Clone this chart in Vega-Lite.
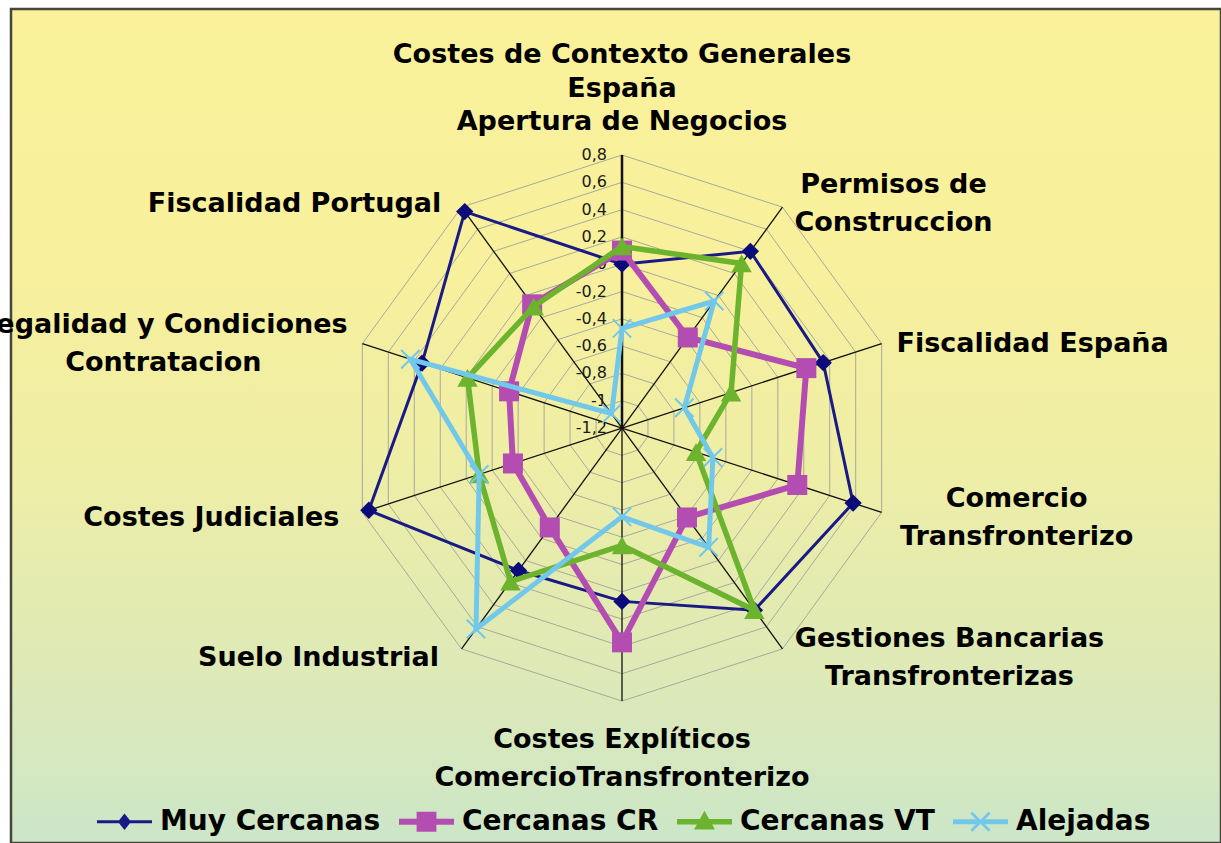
{
  "$schema": "https://vega.github.io/schema/vega-lite/v6.json",
  "width": 1210,
  "height": 834,
  "autosize": {"type": "none"},
  "padding": {"left": 11, "top": 9, "right": 0, "bottom": 0},
  "background": "#ffffff",
  "config": {
    "view": {
      "fill": {"gradient": "linear", "x1": 0, "y1": 0, "x2": 0, "y2": 1,
        "stops": [
          {"offset": 0, "color": "#fbf19b"},
          {"offset": 0.3, "color": "#f8f09c"},
          {"offset": 0.55, "color": "#eeeea6"},
          {"offset": 0.8, "color": "#dde9b7"},
          {"offset": 1, "color": "#cce6c8"}
        ]},
      "stroke": "#46463a",
      "strokeWidth": 2.5
    },
    "legend": {
      "title": null,
      "symbolSize": 3025,
      "symbolStrokeWidth": 0,
      "symbolOpacity": 1,
      "labelFont": "DejaVu Sans",
      "labelFontSize": 28,
      "labelFontWeight": "bold",
      "labelColor": "#000000",
      "labelOffset": 8,
      "columnPadding": 18,
      "labelLimit": 500,
      "padding": 0,
      "direction": "horizontal"
    }
  },
  "datasets": {
    "series": [
      {"s": "Muy Cercanas", "i": 0, "v": 0.0},
      {"s": "Muy Cercanas", "i": 1, "v": 0.40},
      {"s": "Muy Cercanas", "i": 2, "v": 0.35},
      {"s": "Muy Cercanas", "i": 3, "v": 0.58},
      {"s": "Muy Cercanas", "i": 4, "v": 0.45},
      {"s": "Muy Cercanas", "i": 5, "v": 0.07},
      {"s": "Muy Cercanas", "i": 6, "v": 0.09},
      {"s": "Muy Cercanas", "i": 7, "v": 0.75},
      {"s": "Muy Cercanas", "i": 8, "v": 0.34},
      {"s": "Muy Cercanas", "i": 9, "v": 0.76},
      {"s": "Cercanas CR", "i": 0, "v": 0.10},
      {"s": "Cercanas CR", "i": 1, "v": -0.38},
      {"s": "Cercanas CR", "i": 2, "v": 0.22},
      {"s": "Cercanas CR", "i": 3, "v": 0.15},
      {"s": "Cercanas CR", "i": 4, "v": -0.39},
      {"s": "Cercanas CR", "i": 5, "v": 0.37},
      {"s": "Cercanas CR", "i": 6, "v": -0.30},
      {"s": "Cercanas CR", "i": 7, "v": -0.36},
      {"s": "Cercanas CR", "i": 8, "v": -0.33},
      {"s": "Cercanas CR", "i": 9, "v": -0.08},
      {"s": "Cercanas VT", "i": 0, "v": 0.13},
      {"s": "Cercanas VT", "i": 1, "v": 0.29},
      {"s": "Cercanas VT", "i": 2, "v": -0.36},
      {"s": "Cercanas VT", "i": 3, "v": -0.63},
      {"s": "Cercanas VT", "i": 4, "v": 0.45},
      {"s": "Cercanas VT", "i": 5, "v": -0.34},
      {"s": "Cercanas VT", "i": 6, "v": 0.19},
      {"s": "Cercanas VT", "i": 7, "v": -0.10},
      {"s": "Cercanas VT", "i": 8, "v": -0.01},
      {"s": "Cercanas VT", "i": 9, "v": -0.10},
      {"s": "Alejadas", "i": 0, "v": -0.47},
      {"s": "Alejadas", "i": 1, "v": -0.05},
      {"s": "Alejadas", "i": 2, "v": -0.72},
      {"s": "Alejadas", "i": 3, "v": -0.50},
      {"s": "Alejadas", "i": 4, "v": -0.12},
      {"s": "Alejadas", "i": 5, "v": -0.55},
      {"s": "Alejadas", "i": 6, "v": 0.62},
      {"s": "Alejadas", "i": 7, "v": -0.10},
      {"s": "Alejadas", "i": 8, "v": 0.43},
      {"s": "Alejadas", "i": 9, "v": -1.07}
    ],
    "cats": [
      {"i": 0, "name": ["Apertura de Negocios"]},
      {"i": 1, "name": ["Permisos de", "Construccion"]},
      {"i": 2, "name": ["Fiscalidad España"]},
      {"i": 3, "name": ["Comercio", "Transfronterizo"]},
      {"i": 4, "name": ["Gestiones Bancarias", "Transfronterizas"]},
      {"i": 5, "name": ["Costes Explíticos", "ComercioTransfronterizo"]},
      {"i": 6, "name": ["Suelo Industrial"]},
      {"i": 7, "name": ["Costes Judiciales"]},
      {"i": 8, "name": ["Legalidad y Condiciones", "Contratacion"]},
      {"i": 9, "name": ["Fiscalidad Portugal"]}
    ],
    "ticks": [
      {"t": 0.8, "lab": "0,8"},
      {"t": 0.6, "lab": "0,6"},
      {"t": 0.4, "lab": "0,4"},
      {"t": 0.2, "lab": "0,2"},
      {"t": 0.0, "lab": "0"},
      {"t": -0.2, "lab": "-0,2"},
      {"t": -0.4, "lab": "-0,4"},
      {"t": -0.6, "lab": "-0,6"},
      {"t": -0.8, "lab": "-0,8"},
      {"t": -1.0, "lab": "-1"},
      {"t": -1.2, "lab": "-1,2"}
    ],
    "rings": [
      {"t": -1.0, "k": [0,1,2,3,4,5,6,7,8,9]},
      {"t": -0.8, "k": [0,1,2,3,4,5,6,7,8,9]},
      {"t": -0.6, "k": [0,1,2,3,4,5,6,7,8,9]},
      {"t": -0.4, "k": [0,1,2,3,4,5,6,7,8,9]},
      {"t": -0.2, "k": [0,1,2,3,4,5,6,7,8,9]},
      {"t": 0.0, "k": [0,1,2,3,4,5,6,7,8,9]},
      {"t": 0.2, "k": [0,1,2,3,4,5,6,7,8,9]},
      {"t": 0.4, "k": [0,1,2,3,4,5,6,7,8,9]},
      {"t": 0.6, "k": [0,1,2,3,4,5,6,7,8,9]},
      {"t": 0.8, "k": [0,1,2,3,4,5,6,7,8,9]}
    ]
  },
  "layer": [
    {
      "data": {"name": "rings"},
      "transform": [
        {"flatten": ["k"]},
        {"calculate": "datum.k*PI/5", "as": "a"},
        {"calculate": "(datum.t+1.2)*sin(datum.a)", "as": "px"},
        {"calculate": "(datum.t+1.2)*cos(datum.a)", "as": "py"}
      ],
      "mark": {"type": "line", "interpolate": "linear-closed", "color": "#a9a99c", "strokeWidth": 1},
      "encoding": {
        "x": {"field": "px", "type": "quantitative", "scale": {"domain": [-4.476, 4.388], "nice": false, "zero": false}, "axis": null},
        "y": {"field": "py", "type": "quantitative", "scale": {"domain": [-3.04, 3.0696], "nice": false, "zero": false}, "axis": null},
        "detail": {"field": "t", "type": "nominal"},
        "order": {"field": "k", "type": "quantitative"}
      }
    },
    {
      "data": {"name": "cats"},
      "transform": [
        {"calculate": "datum.i*PI/5", "as": "a"},
        {"calculate": "0", "as": "z"},
        {"calculate": "2*sin(datum.a)", "as": "ex"},
        {"calculate": "2*cos(datum.a)", "as": "ey"}
      ],
      "mark": {"type": "rule", "color": "#111111"},
      "encoding": {
        "x": {"field": "z", "type": "quantitative", "scale": {"domain": [-4.476, 4.388], "nice": false, "zero": false}, "axis": null},
        "y": {"field": "z", "type": "quantitative", "scale": {"domain": [-3.04, 3.0696], "nice": false, "zero": false}, "axis": null},
        "x2": {"field": "ex"},
        "y2": {"field": "ey"},
        "strokeWidth": {"condition": {"test": "datum.i == 0", "value": 2.5}, "value": 1.3}
      }
    },
    {
      "data": {"name": "ticks"},
      "transform": [
        {"calculate": "0", "as": "px"},
        {"calculate": "datum.t+1.2", "as": "py"}
      ],
      "mark": {"type": "text", "align": "right", "baseline": "middle", "dx": -15, "fontSize": 16, "font": "DejaVu Sans", "color": "#1a1a1a"},
      "encoding": {
        "x": {"field": "px", "type": "quantitative", "scale": {"domain": [-4.476, 4.388], "nice": false, "zero": false}, "axis": null},
        "y": {"field": "py", "type": "quantitative", "scale": {"domain": [-3.04, 3.0696], "nice": false, "zero": false}, "axis": null},
        "text": {"field": "lab", "type": "nominal"}
      }
    },
    {
      "data": {"name": "cats"},
      "transform": [
        {"calculate": "datum.i*PI/5", "as": "a"},
        {"calculate": "sin(datum.a)", "as": "sa"},
        {"calculate": "cos(datum.a)", "as": "ca"},
        {"calculate": "abs(datum.sa) < 0.01 ? 0 : (datum.sa > 0 ? 1 : -1)", "as": "side"},
        {"calculate": "length(datum.name)", "as": "n"},
        {"calculate": "datum.n > 1 ? max(length(datum.name[0]), length(datum.name[1])) : length(datum.name[0])", "as": "ml"},
        {"calculate": "2*datum.sa + datum.side*(15 + 8*datum.ml)/136.5", "as": "px"},
        {"calculate": "2*datum.ca + ((datum.side == 0 ? (datum.ca > 0 ? 14 + 19*datum.n : -(20 + 19*datum.n)) : 8*datum.ca - 3) + 19*(datum.n - 1))/136.5", "as": "py"}
      ],
      "mark": {"type": "text", "align": "center", "baseline": "middle", "fontSize": 27, "fontWeight": "bold", "lineHeight": 38, "font": "DejaVu Sans", "color": "#000000"},
      "encoding": {
        "x": {"field": "px", "type": "quantitative", "scale": {"domain": [-4.476, 4.388], "nice": false, "zero": false}, "axis": null},
        "y": {"field": "py", "type": "quantitative", "scale": {"domain": [-3.04, 3.0696], "nice": false, "zero": false}, "axis": null},
        "text": {"field": "name", "type": "nominal"}
      }
    },
    {
      "data": {"values": [{"title": ["Costes de Contexto  Generales", "España"]}]},
      "mark": {"type": "text", "align": "center", "baseline": "alphabetic", "fontSize": 27, "fontWeight": "bold", "lineHeight": 33.4, "font": "DejaVu Sans", "color": "#000000"},
      "encoding": {
        "x": {"datum": 0, "type": "quantitative", "scale": {"domain": [-4.476, 4.388], "nice": false, "zero": false}, "axis": null},
        "y": {"datum": 2.672, "type": "quantitative", "scale": {"domain": [-3.04, 3.0696], "nice": false, "zero": false}, "axis": null},
        "text": {"field": "title", "type": "nominal"}
      }
    },
    {
      "data": {"name": "series"},
      "transform": [
        {"calculate": "datum.i*PI/5", "as": "a"},
        {"calculate": "(datum.v+1.2)*sin(datum.a)", "as": "px"},
        {"calculate": "(datum.v+1.2)*cos(datum.a)", "as": "py"}
      ],
      "mark": {"type": "point", "filled": true, "opacity": 0, "size": 10},
      "encoding": {
        "x": {"field": "px", "type": "quantitative", "scale": {"domain": [-4.476, 4.388], "nice": false, "zero": false}, "axis": null},
        "y": {"field": "py", "type": "quantitative", "scale": {"domain": [-3.04, 3.0696], "nice": false, "zero": false}, "axis": null},
        "color": {
          "field": "s", "type": "nominal",
          "scale": {"domain": ["Muy Cercanas", "Cercanas CR", "Cercanas VT", "Alejadas"], "range": ["#1a1a86", "#b44db1", "#6db42e", "#72c8ea"]},
          "legend": {"orient": "none", "legendX": 86, "legendY": 785, "direction": "horizontal", "title": null, "symbolOpacity": 1}
        },
        "shape": {
          "field": "s", "type": "nominal",
          "scale": {"domain": ["Muy Cercanas", "Cercanas CR", "Cercanas VT", "Alejadas"], "range": [
            "M-1,-0.055V0.055H1V-0.055Z M0,-0.3L-0.24,0L0,0.3L0.24,0Z",
            "M-1,-0.11V0.11H1V-0.11Z M-0.36,-0.36V0.36H0.36V-0.36Z",
            "M-1,-0.1V0.1H1V-0.1Z M0,-0.4L-0.38,0.28H0.38Z",
            "M-1,-0.09V0.09H1V-0.09Z M-0.365,-0.295L0.295,0.365L0.365,0.295L-0.295,-0.365Z M-0.295,0.365L0.365,-0.295L0.295,-0.365L-0.365,0.295Z"
          ]},
          "legend": {"orient": "none", "legendX": 86, "legendY": 785, "direction": "horizontal", "title": null, "symbolOpacity": 1}
        }
      }
    },
    {
      "data": {"name": "series"},
      "transform": [
        {"filter": "datum.s == 'Muy Cercanas'"},
        {"calculate": "datum.i*PI/5", "as": "a"},
        {"calculate": "(datum.v+1.2)*sin(datum.a)", "as": "px"},
        {"calculate": "(datum.v+1.2)*cos(datum.a)", "as": "py"}
      ],
      "mark": {"type": "line", "interpolate": "linear-closed", "color": "#1a1a86", "strokeWidth": 3},
      "encoding": {
        "x": {"field": "px", "type": "quantitative", "scale": {"domain": [-4.476, 4.388], "nice": false, "zero": false}, "axis": null},
        "y": {"field": "py", "type": "quantitative", "scale": {"domain": [-3.04, 3.0696], "nice": false, "zero": false}, "axis": null},
        "order": {"field": "i", "type": "quantitative"}
      }
    },
    {
      "data": {"name": "series"},
      "transform": [
        {"filter": "datum.s == 'Muy Cercanas'"},
        {"calculate": "datum.i*PI/5", "as": "a"},
        {"calculate": "(datum.v+1.2)*sin(datum.a)", "as": "px"},
        {"calculate": "(datum.v+1.2)*cos(datum.a)", "as": "py"}
      ],
      "mark": {"type": "point", "shape": "diamond", "filled": true, "size": 300, "color": "#0b0b7a", "opacity": 1},
      "encoding": {
        "x": {"field": "px", "type": "quantitative", "scale": {"domain": [-4.476, 4.388], "nice": false, "zero": false}, "axis": null},
        "y": {"field": "py", "type": "quantitative", "scale": {"domain": [-3.04, 3.0696], "nice": false, "zero": false}, "axis": null}
      }
    },
    {
      "data": {"name": "series"},
      "transform": [
        {"filter": "datum.s == 'Cercanas CR'"},
        {"calculate": "datum.i*PI/5", "as": "a"},
        {"calculate": "(datum.v+1.2)*sin(datum.a)", "as": "px"},
        {"calculate": "(datum.v+1.2)*cos(datum.a)", "as": "py"}
      ],
      "mark": {"type": "line", "interpolate": "linear-closed", "color": "#b44db1", "strokeWidth": 6},
      "encoding": {
        "x": {"field": "px", "type": "quantitative", "scale": {"domain": [-4.476, 4.388], "nice": false, "zero": false}, "axis": null},
        "y": {"field": "py", "type": "quantitative", "scale": {"domain": [-3.04, 3.0696], "nice": false, "zero": false}, "axis": null},
        "order": {"field": "i", "type": "quantitative"}
      }
    },
    {
      "data": {"name": "series"},
      "transform": [
        {"filter": "datum.s == 'Cercanas CR'"},
        {"calculate": "datum.i*PI/5", "as": "a"},
        {"calculate": "(datum.v+1.2)*sin(datum.a)", "as": "px"},
        {"calculate": "(datum.v+1.2)*cos(datum.a)", "as": "py"}
      ],
      "mark": {"type": "point", "shape": "square", "filled": true, "size": 400, "color": "#b44db1", "opacity": 1},
      "encoding": {
        "x": {"field": "px", "type": "quantitative", "scale": {"domain": [-4.476, 4.388], "nice": false, "zero": false}, "axis": null},
        "y": {"field": "py", "type": "quantitative", "scale": {"domain": [-3.04, 3.0696], "nice": false, "zero": false}, "axis": null}
      }
    },
    {
      "data": {"name": "series"},
      "transform": [
        {"filter": "datum.s == 'Cercanas VT'"},
        {"calculate": "datum.i*PI/5", "as": "a"},
        {"calculate": "(datum.v+1.2)*sin(datum.a)", "as": "px"},
        {"calculate": "(datum.v+1.2)*cos(datum.a)", "as": "py"}
      ],
      "mark": {"type": "line", "interpolate": "linear-closed", "color": "#6db42e", "strokeWidth": 5.5},
      "encoding": {
        "x": {"field": "px", "type": "quantitative", "scale": {"domain": [-4.476, 4.388], "nice": false, "zero": false}, "axis": null},
        "y": {"field": "py", "type": "quantitative", "scale": {"domain": [-3.04, 3.0696], "nice": false, "zero": false}, "axis": null},
        "order": {"field": "i", "type": "quantitative"}
      }
    },
    {
      "data": {"name": "series"},
      "transform": [
        {"filter": "datum.s == 'Cercanas VT'"},
        {"calculate": "datum.i*PI/5", "as": "a"},
        {"calculate": "(datum.v+1.2)*sin(datum.a)", "as": "px"},
        {"calculate": "(datum.v+1.2)*cos(datum.a)", "as": "py"}
      ],
      "mark": {"type": "point", "shape": "triangle-up", "filled": true, "size": 420, "color": "#6db42e", "opacity": 1},
      "encoding": {
        "x": {"field": "px", "type": "quantitative", "scale": {"domain": [-4.476, 4.388], "nice": false, "zero": false}, "axis": null},
        "y": {"field": "py", "type": "quantitative", "scale": {"domain": [-3.04, 3.0696], "nice": false, "zero": false}, "axis": null}
      }
    },
    {
      "data": {"name": "series"},
      "transform": [
        {"filter": "datum.s == 'Alejadas'"},
        {"calculate": "datum.i*PI/5", "as": "a"},
        {"calculate": "(datum.v+1.2)*sin(datum.a)", "as": "px"},
        {"calculate": "(datum.v+1.2)*cos(datum.a)", "as": "py"}
      ],
      "mark": {"type": "line", "interpolate": "linear-closed", "color": "#72c8ea", "strokeWidth": 5},
      "encoding": {
        "x": {"field": "px", "type": "quantitative", "scale": {"domain": [-4.476, 4.388], "nice": false, "zero": false}, "axis": null},
        "y": {"field": "py", "type": "quantitative", "scale": {"domain": [-3.04, 3.0696], "nice": false, "zero": false}, "axis": null},
        "order": {"field": "i", "type": "quantitative"}
      }
    },
    {
      "data": {"name": "series"},
      "transform": [
        {"filter": "datum.s == 'Alejadas'"},
        {"calculate": "datum.i*PI/5", "as": "a"},
        {"calculate": "(datum.v+1.2)*sin(datum.a)", "as": "px"},
        {"calculate": "(datum.v+1.2)*cos(datum.a)", "as": "py"}
      ],
      "mark": {"type": "point", "shape": "M-1,-1L1,1M-1,1L1,-1", "filled": false, "size": 340, "strokeWidth": 2, "color": "#72c8ea", "opacity": 1},
      "encoding": {
        "x": {"field": "px", "type": "quantitative", "scale": {"domain": [-4.476, 4.388], "nice": false, "zero": false}, "axis": null},
        "y": {"field": "py", "type": "quantitative", "scale": {"domain": [-3.04, 3.0696], "nice": false, "zero": false}, "axis": null}
      }
    }
  ]
}
